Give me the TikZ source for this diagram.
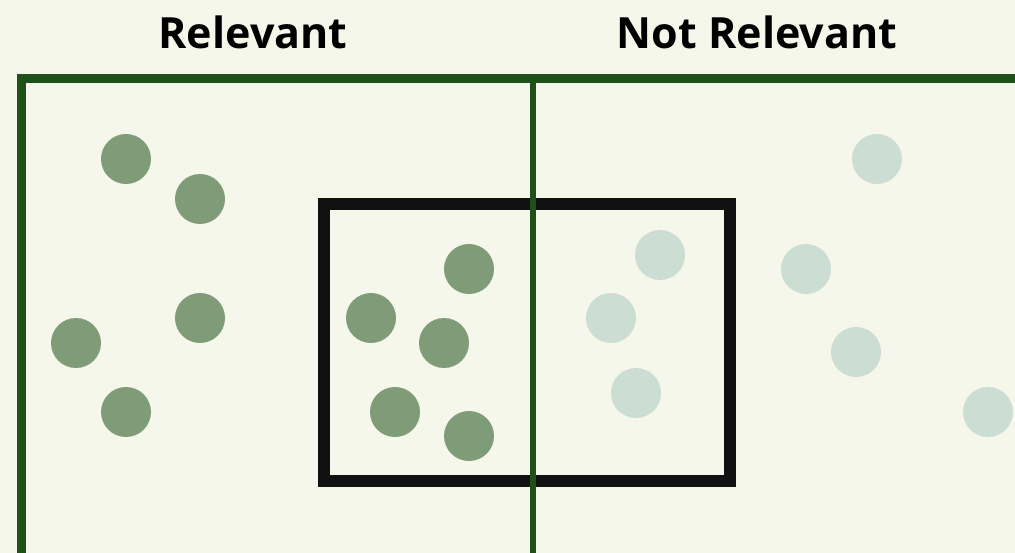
\documentclass[tikz,border=0pt]{standalone}
\usepackage{fontspec}
\setmainfont{Open Sans}
\definecolor{bg}{HTML}{F6F7EB}
\definecolor{frame}{HTML}{20501A}
\definecolor{darkdot}{HTML}{7F9B77}
\definecolor{lightdot}{HTML}{CCDDD3}
\definecolor{boxblack}{HTML}{111111}
\tikzset{
  rel/.style={circle, fill=darkdot, minimum size=50pt, inner sep=0pt},
  notrel/.style={circle, fill=lightdot, minimum size=50pt, inner sep=0pt},
  head/.style={font=\fontsize{43}{50}\selectfont\bfseries, text=black, inner sep=0pt, anchor=base},
}
\begin{document}
\begin{tikzpicture}[x=1pt,y=-1pt]
\fill[bg] (0,0) rectangle (1015,553);
\useasboundingbox (0,0) rectangle (1015,553);
% headings
\node[head] (h1) at (253,49) {Relevant};
\node[head] (h2) at (757,49) {Not Relevant};
% dots relevant
\foreach \n/\x/\y in {a/126/159, b/200/199, c/200/318, d/76/343, e/126/412,
  f/469/269, g/371/318, h/444/343, i/395/412, j/469/436}
  \node[rel] (r\n) at (\x,\y) {};
% dots not relevant
\foreach \n/\x/\y in {a/660/255, b/611/318, c/636/393, d/877/159, e/806/269, f/856/352, g/988/412}
  \node[notrel] (n\n) at (\x,\y) {};
% selection box
\draw[boxblack, line width=12pt] (324,204) rectangle (730,480.5);
% frame
\coordinate (tl) at (21,78.5);
\coordinate (tr) at (1015,78.5);
\coordinate (bl) at (21,553);
\coordinate (mt) at (533,78.5);
\coordinate (mb) at (533,553);
\draw[frame, line width=9pt] (bl) -- (tl) -- (tr);
\draw[frame, line width=6pt] (mt) -- (mb);
\end{tikzpicture}
\end{document}
